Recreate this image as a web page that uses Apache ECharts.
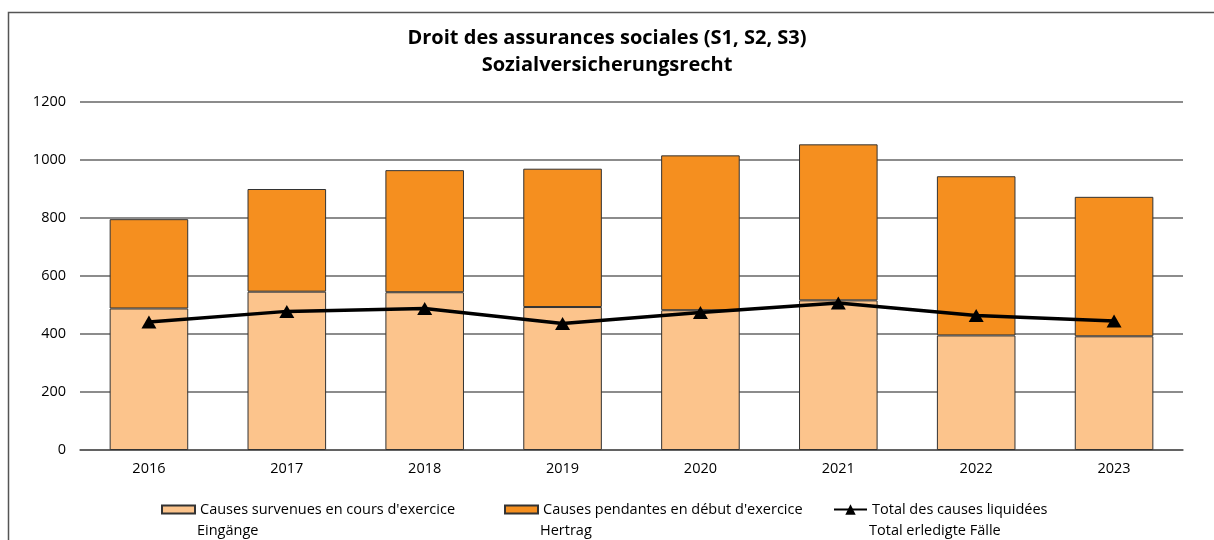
<!DOCTYPE html>
<html>
<head>
<meta charset="UTF-8">
<title>Sozialversicherungsrecht</title>
<script src="https://cdn.jsdelivr.net/npm/echarts@6/dist/echarts.min.js"></script>
<style>
  html, body { margin: 0; padding: 0; background: #fff; }
  #main { width: 1214px; height: 540px; }
</style>
</head>
<body>
<div id="main"></div>
<script>
// data
var years = ['2016', '2017', '2018', '2019', '2020', '2021', '2022', '2023'];
var eingaenge = [488, 546, 544, 493, 482, 516, 395, 392];   // Causes survenues en cours d'exercice
var hertrag = [308, 354, 421, 477, 534, 538, 549, 481];     // Causes pendantes en début d'exercice
var erledigt = [441, 478, 488, 436, 474, 507, 464, 445];    // Total des causes liquidées
var yTicks = [0, 200, 400, 600, 800, 1000, 1200];

var names = [
  "Causes survenues en cours d'exercice",
  "Causes pendantes en début d'exercice",
  'Total des causes liquidées'
];
var names2 = ['Eingänge', 'Hertrag', 'Total erledigte Fälle'];

var font = '"Open Sans", "Liberation Sans", sans-serif';
var fs = 14.5;
var myChart = echarts.init(document.getElementById('main'));

var legendLeft = [161, 504, 833];
var legends = names.map(function (n, i) {
  return {
    data: [{ name: n, icon: i == 2 ? undefined : 'rect' }],
    left: legendLeft[i],
    top: 502,
    padding: 0,
    itemWidth: 33,
    itemHeight: i == 2 ? 13 : 8,
    itemGap: 0,
    itemTextGap: 3,
    selectedMode: false,
    textStyle: { fontFamily: font, fontSize: fs, color: '#000' }
  };
});

var option = {
  animation: false,
  backgroundColor: '#fff',
  title: {
    text: 'Droit des assurances sociales (S1, S2, S3)\nSozialversicherungsrecht',
    left: 'center',
    top: 20,
    textStyle: { fontFamily: font, fontSize: 20, fontWeight: 'bold', color: '#000', lineHeight: 27 }
  },
  legend: legends,
  grid: { left: 80, right: 31, top: 102, bottom: 90 },
  xAxis: {
    type: 'category',
    data: years,
    axisLine: { lineStyle: { color: '#555', width: 1.5 } },
    axisTick: { show: false },
    axisLabel: { fontFamily: font, fontSize: fs, color: '#000', margin: 11 }
  },
  yAxis: {
    type: 'value',
    min: yTicks[0],
    max: yTicks[yTicks.length - 1],
    interval: 200,
    axisLine: { show: false },
    axisTick: { show: false },
    axisLabel: {
      fontFamily: font, fontSize: fs, color: '#000', margin: 14,
      formatter: function (v) { return String(v); }
    },
    splitLine: { lineStyle: { color: '#666', width: 1.5 } }
  },
  series: [
    {
      name: names[0],
      type: 'bar',
      stack: 'total',
      barWidth: '57%',
      data: eingaenge,
      itemStyle: { color: '#FCC48C', borderColor: '#333', borderWidth: 1 }
    },
    {
      name: names[1],
      type: 'bar',
      stack: 'total',
      data: hertrag,
      itemStyle: { color: '#F58F1F', borderColor: '#333', borderWidth: 1 }
    },
    {
      name: names[2],
      type: 'line',
      data: erledigt,
      symbol: 'triangle',
      symbolSize: [15, 13],
      z: 5,
      lineStyle: { color: '#000', width: 3.5 },
      itemStyle: { color: '#000' }
    }
  ],
  graphic: [
    {
      type: 'rect',
      shape: { x: 8.5, y: 12.5, width: 1400, height: 700 },
      style: { fill: 'none', stroke: '#555', lineWidth: 1.5 },
      silent: true
    }
  ].concat(names2.map(function (t, i) {
    return {
      type: 'text',
      left: legendLeft[i] + 36,
      top: 523,
      style: { text: t, fontFamily: font, fontSize: fs, fill: '#000' }
    };
  }))
};

myChart.setOption(option);
</script>
</body>
</html>
